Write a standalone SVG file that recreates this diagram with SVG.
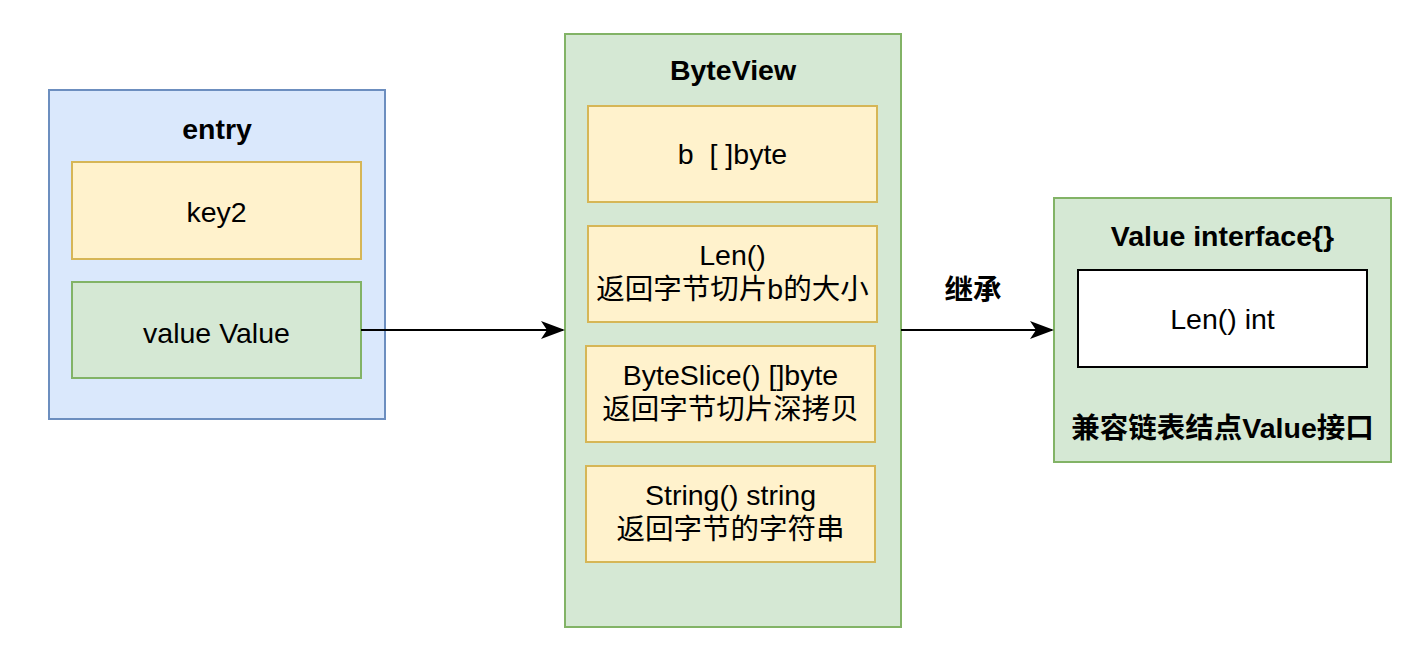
<svg xmlns="http://www.w3.org/2000/svg" width="1406" height="646" viewBox="0 0 1406 646">
<defs>
<style>
.blue{fill:#dae8fc;stroke:#6c8ebf;stroke-width:2}
.yel{fill:#fff2cc;stroke:#d6b656;stroke-width:2}
.grn{fill:#d5e8d4;stroke:#82b366;stroke-width:2}
.wht{fill:#ffffff;stroke:#000000;stroke-width:2}
text{font-family:"Liberation Sans","Noto Sans CJK SC",sans-serif;font-size:28.5px;fill:#000;text-anchor:middle}
.b{font-weight:bold}
.edge{stroke:#000;stroke-width:2;fill:none}
</style>
<marker id="arr" viewBox="0 0 24 18" refX="22" refY="9" markerWidth="24" markerHeight="18" markerUnits="userSpaceOnUse" orient="auto">
<path d="M0,0 L24,9 L0,18 L6,9 Z" fill="#000"/>
</marker>
</defs>
<rect width="1406" height="646" fill="#ffffff"/>
<g id="entry">
<rect class="blue" x="49" y="90" width="336" height="329"/>
<text class="b" x="217" y="139">entry</text>
</g>
<g id="key2">
<rect class="yel" x="72" y="162" width="289" height="97"/>
<text x="216.5" y="222">key2</text>
</g>
<g id="value">
<rect class="grn" x="72" y="282" width="289" height="96"/>
<text x="216.5" y="343">value Value</text>
</g>
<g id="byteview">
<rect class="grn" x="565" y="34" width="336" height="593"/>
<text class="b" x="733" y="80">ByteView</text>
</g>
<g id="b">
<rect class="yel" x="588" y="106" width="289" height="96"/>
<text x="732.5" y="164" xml:space="preserve">b  [ ]byte</text>
</g>
<g id="len">
<rect class="yel" x="588" y="226" width="289" height="96"/>
<text x="732.5" y="265">Len()</text>
<text x="732.5" y="299">返回字节切片b的大小</text>
</g>
<g id="byteslice">
<rect class="yel" x="586" y="346" width="289" height="96"/>
<text x="730.5" y="385">ByteSlice() []byte</text>
<text x="730.5" y="419">返回字节切片深拷贝</text>
</g>
<g id="string">
<rect class="yel" x="586" y="466" width="289" height="96"/>
<text x="730.5" y="505">String() string</text>
<text x="730.5" y="539">返回字节的字符串</text>
</g>
<g id="valueiface">
<rect class="grn" x="1054" y="198" width="337" height="264"/>
<text class="b" x="1222.5" y="246">Value interface{}</text>
<text class="b" x="1222.5" y="438">兼容链表结点Value接口</text>
</g>
<g id="lenint">
<rect class="wht" x="1078" y="270" width="289" height="97"/>
<text x="1222.5" y="329">Len() int</text>
</g>
<g id="connectors">
<line class="edge" x1="361" y1="330" x2="563" y2="330" marker-end="url(#arr)"/>
<line class="edge" x1="901" y1="330" x2="1052" y2="330" marker-end="url(#arr)"/>
<text class="b" x="973" y="300">继承</text>
</g>
</svg>
